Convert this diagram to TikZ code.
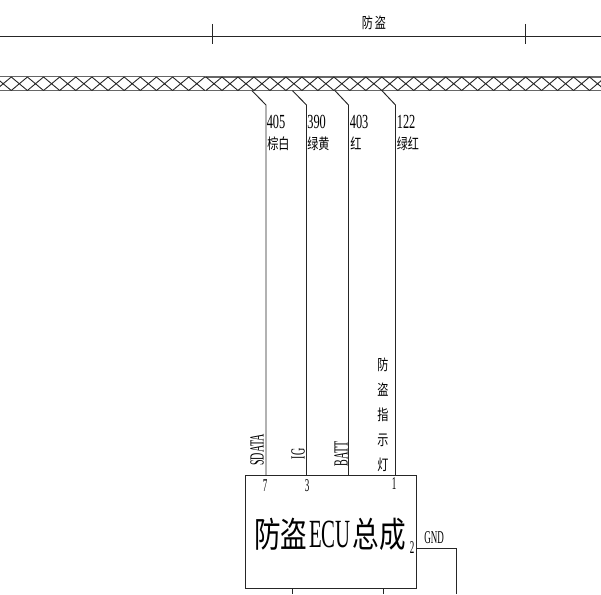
\documentclass[tikz,border=0pt]{standalone}
\usepackage{fontspec}
\setmainfont{Liberation Serif}
\newfontfamily\cjk{Noto Sans CJK SC}
\usetikzlibrary{positioning}

\begin{document}
\begin{tikzpicture}[x=1pt,y=-1pt,line width=0.95pt,draw=black!85,
                  cable/.style={line width=1.5pt,draw=black!60},
                  hatch/.style={line width=0.9pt,draw=black!85},
                  tag/.style={inner sep=0pt,anchor=west,transform shape,xscale=0.62,font=\fontsize{20}{20}\selectfont},
                  cn/.style={inner sep=0pt,anchor=west,transform shape,xscale=0.74,font=\fontsize{15}{15}\selectfont\cjk},
                  vert/.style={inner sep=0pt,transform shape,xscale=0.74,font=\fontsize{15}{15}\selectfont\cjk},
                  pin/.style={inner sep=0pt,transform shape,xscale=0.5,font=\fontsize{18}{18}\selectfont},
                  side/.style={inner sep=0pt,transform shape,rotate=90,xscale=0.5,font=\fontsize{20}{20}\selectfont}]

    \useasboundingbox (0,0) rectangle (601,594);

    % dimension line
    \draw (0,36.5) coordinate (dl) -- (601,36.5) coordinate (dr);
    \foreach \x in {212,525}
      \draw (\x,24) -- (\x,44.5);
    \node[vert] (title) at (374,23) {防\,盗};

    % shielded cable
    \draw[cable] (0,76.5) -- (205,76.5);
    \draw[cable] (205,77) -- (601,77);
    \draw[cable] (0,90.7) -- (601,90.7);
    \foreach \k in {0,...,12}
      \draw[hatch] ({3.2+16.13*\k-8.07},77) -- ({3.2+16.13*\k+8.07},90.5)
                   ({3.2+16.13*\k-8.07},90.5) -- ({3.2+16.13*\k+8.07},77);
    \foreach \k in {0,...,24}
      \draw[hatch] ({214+15.98*\k-8},77) -- ({214+15.98*\k+8},90.5)
                   ({214+15.98*\k-8},90.5) -- ({214+15.98*\k+8},77);

    % ECU box
    \node[draw,minimum width=171pt,minimum height=113pt,inner sep=0pt] (ecu) at (330.5,531.5) {};
    \node[inner sep=0pt] (name) at (330,534)
      {\scalebox{0.76}[1]{\fontsize{35}{35}\selectfont\cjk 防盗}\,\scalebox{0.52}[1]{\fontsize{40}{40}\selectfont ECU}\,\scalebox{0.76}[1]{\fontsize{35}{35}\selectfont\cjk 总成}};

    % wires to the cable
    \foreach \a/\b/\n in {252/266/w1,292.5/306.5/w2,335/348.5/w3,382/395.5/w4} {
      \coordinate (\n) at (\b,475);
      \draw (\a,90.7) -- (\b,105) -- (\n);
    }

    \node[tag] (n1) at (266.5,122) {405};
    \node[cn]  (c1) at (267,143.5) {棕白};
    \node[tag] (n2) at (307,122) {390};
    \node[cn]  (c2) at (307,143.5) {绿黄};
    \node[tag] (n3) at (349.5,122) {403};
    \node[cn]  (c3) at (350,143.5) {红};
    \node[tag] (n4) at (396.5,122) {122};
    \node[cn]  (c4) at (396.5,143.5) {绿红};

    \node[side] (sdata) at (257,450) {SDATA};
    \node[side] (ig)    at (298,454) {IG};
    \node[side] (batt)  at (341,453.5) {BATT};
    \foreach \y/\t in {365/防,390/盗,415/指,440/示,465/灯}
      \node[vert] (v\y) at (383,\y) {\t};

    \node[pin] (p7) at (265,486) {7};
    \node[pin] (p3) at (307,486) {3};
    \node[pin] (p1) at (394,484) {1};
    \node[pin] (p2) at (412,548) {2};
    \node[pin] (gnd) at (434,538) {GND};

    % ground and lower wires
    \coordinate (g1) at (ecu.east |- 0,548.5);
    \coordinate (g2) at (456.5,548.5);
    \coordinate (g3) at (456.5,594);
    \draw (g1) -- (g2) -- (g3);
    \coordinate (b1) at (292.7,594);
    \coordinate (b2) at (383.3,594);
    \draw (b1 |- ecu.south) -- (b1);
    \draw (b2 |- ecu.south) -- (b2);
  \end{tikzpicture}
\end{document}
